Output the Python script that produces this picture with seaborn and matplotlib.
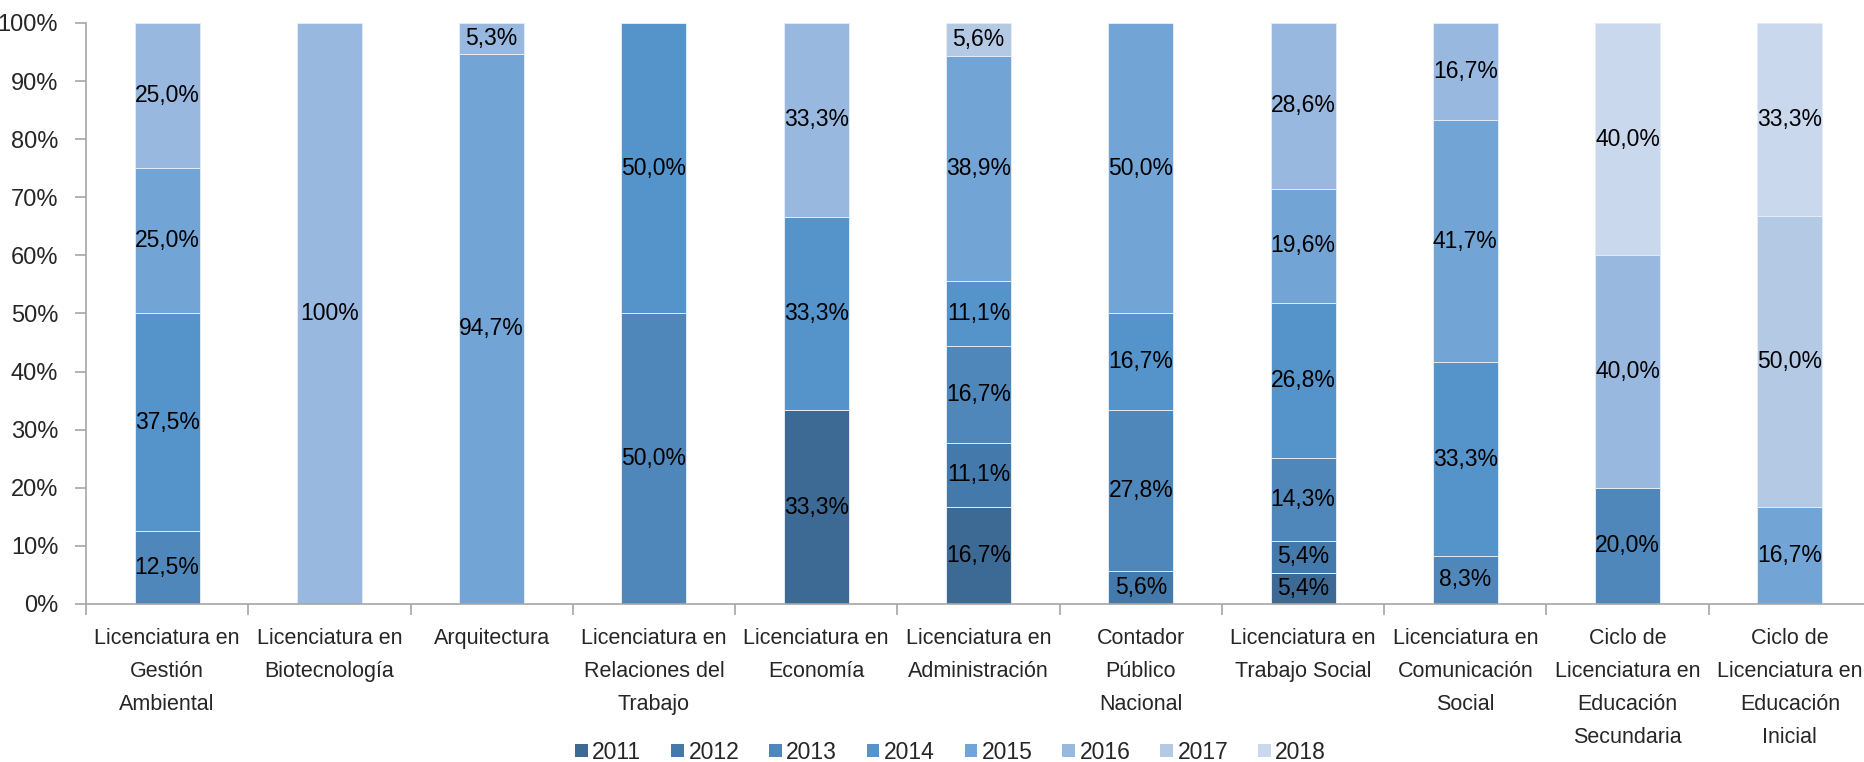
import numpy as np
import pandas as pd
import matplotlib
matplotlib.use("Agg")
import matplotlib.pyplot as plt
from matplotlib.patches import Patch
from matplotlib.ticker import MultipleLocator, FixedLocator
import seaborn as sns

# carreras (eje x)
categories = [
    "Licenciatura en\nGestión\nAmbiental",
    "Licenciatura en\nBiotecnología",
    "Arquitectura",
    "Licenciatura en\nRelaciones del\nTrabajo",
    "Licenciatura en\nEconomía",
    "Licenciatura en\nAdministración",
    "Contador\nPúblico\nNacional",
    "Licenciatura en\nTrabajo Social",
    "Licenciatura en\nComunicación\nSocial",
    "Ciclo de\nLicenciatura en\nEducación\nSecundaria",
    "Ciclo de\nLicenciatura en\nEducación\nInicial",
]

years = ["2011", "2012", "2013", "2014", "2015", "2016", "2017", "2018"]

# porcentaje por año de ingreso
y2011 = [0, 0, 0, 0, 33.3, 16.7, 0, 5.4, 0, 0, 0]
y2012 = [0, 0, 0, 0, 0, 11.1, 5.6, 5.4, 0, 0, 0]
y2013 = [12.5, 0, 0, 50.0, 0, 16.7, 27.8, 14.3, 8.3, 20.0, 0]
y2014 = [37.5, 0, 0, 50.0, 33.3, 11.1, 16.7, 26.8, 33.3, 0, 0]
y2015 = [25.0, 0, 94.7, 0, 0, 38.9, 50.0, 19.6, 41.7, 0, 16.7]
y2016 = [25.0, 100, 5.3, 0, 33.3, 0, 0, 28.6, 16.7, 40.0, 0]
y2017 = [0, 0, 0, 0, 0, 5.6, 0, 0, 0, 0, 50.0]
y2018 = [0, 0, 0, 0, 0, 0, 0, 0, 0, 40.0, 33.3]

colors = ["#3D6A94", "#4479AB", "#4F87BB", "#5593CB",
          "#72A5D6", "#98B8DF", "#B4C9E4", "#C9D8ED"]

series = [y2011, y2012, y2013, y2014, y2015, y2016, y2017, y2018]
df = pd.DataFrame(dict(zip(years, series)))
# 100% stacked: normalise each carrera so rounding doesn't leave gaps
share = df[years].div(df[years].sum(axis=1), axis=0) * 100
cum = share.cumsum(axis=1)
cum["carrera"] = categories


def fmt(v):
    if v >= 99.95:
        return "100%"
    return f"{v:.1f}%".replace(".", ",")


def main():
    sns.set_style("white")
    plt.rcParams["font.family"] = ["Liberation Sans Narrow", "Liberation Sans", "DejaVu Sans"]

    fig = plt.figure(figsize=(18.64, 7.62), dpi=100)
    ax = fig.add_axes([86 / 1864, 158 / 762, 1785 / 1864, 581 / 762])

    # stacked bars: draw cumulative totals from the top year down
    for yr, col in reversed(list(zip(years, colors))):
        sns.barplot(data=cum, x="carrera", y=yr, order=categories, color=col,
                    width=0.4, errorbar=None, saturation=1, ax=ax,
                    edgecolor="#E4ECF6", linewidth=0.7)

    # data labels in the middle of each segment
    bottoms = np.zeros(len(categories))
    for yr in years:
        vals = share[yr].to_numpy()
        for i, v in enumerate(vals):
            if v > 0:
                ax.text(i, bottoms[i] + v / 2, fmt(df[yr][i]), ha="center",
                        va="center", fontsize=16.5, color="black")
        bottoms += vals

    ax.set_ylim(0, 100)
    ax.set_xlim(-0.5, len(categories) - 0.5)
    ax.yaxis.set_major_locator(MultipleLocator(10))
    ax.set_yticklabels([f"{int(t)}%" for t in ax.get_yticks()])
    ax.xaxis.set_minor_locator(FixedLocator(np.arange(-0.5, len(categories), 1.0)))
    ax.set_xlabel("")
    ax.set_ylabel("")

    for s in ["top", "right"]:
        ax.spines[s].set_visible(False)
    for s in ["left", "bottom"]:
        ax.spines[s].set_color("#A6A6A6")
        ax.spines[s].set_linewidth(1.2)

    ax.tick_params(axis="y", which="major", left=True, length=8, width=1.2,
                   color="#A6A6A6", labelsize=17, pad=12)
    ax.tick_params(axis="x", which="major", bottom=False, length=0,
                   labelsize=15.5, pad=17)
    ax.tick_params(axis="x", which="minor", bottom=True, length=8, width=1.2,
                   color="#A6A6A6")
    for lab in ax.get_xticklabels():
        lab.set_linespacing(1.75)
        lab.set_multialignment("center")

    handles = [Patch(facecolor=c, edgecolor="none", label=y) for y, c in zip(years, colors)]
    fig.legend(handles=handles, loc="center", bbox_to_anchor=(0.51, 0.013),
               ncol=8, frameon=False, fontsize=16.5, handlelength=0.55,
               handleheight=0.55, handletextpad=0.2, columnspacing=1.3)

    fig.savefig("out.png", dpi=100)


if __name__ == "__main__":
    main()
